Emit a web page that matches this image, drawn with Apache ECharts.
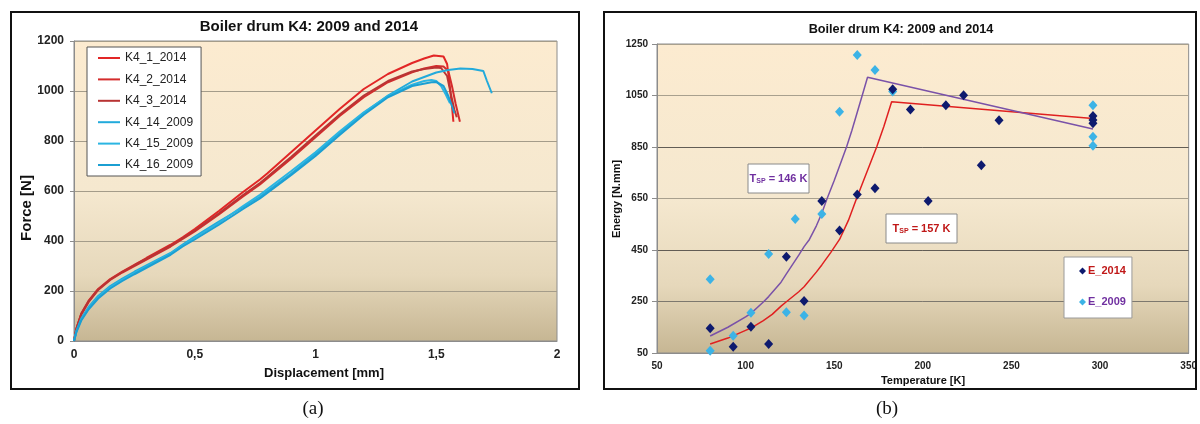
<!DOCTYPE html>
<html>
<head>
<meta charset="utf-8">
<script src="https://cdn.jsdelivr.net/npm/echarts@6/dist/echarts.min.js"></script>
<style>
  html, body { margin: 0; padding: 0; background: #ffffff; }
  #chart { width: 1200px; height: 424px; }
</style>
</head>
<body>
<div id="chart"></div>
<script>
// ---- (a) force–displacement records, [displacement mm, force N] ----
const k4_1_2014 = [[0,0],[0.01,50],[0.03,110],[0.06,160],[0.1,208],[0.15,248],[0.2,278],[0.25,305],[0.3,332],[0.4,385],[0.45,415],[0.5,448],[0.6,520],[0.7,596],[0.77,646],[0.8,670],[0.9,756],[1.0,842],[1.1,928],[1.2,1008],[1.3,1068],[1.4,1112],[1.45,1130],[1.49,1142],[1.53,1138],[1.545,1108],[1.555,1030],[1.565,940],[1.571,877]];
const k4_2_2014 = [[0,0],[0.01,48],[0.03,105],[0.06,155],[0.1,204],[0.15,244],[0.2,274],[0.25,300],[0.3,326],[0.4,378],[0.5,438],[0.6,506],[0.7,578],[0.77,626],[0.8,650],[0.9,730],[1.0,815],[1.1,900],[1.2,975],[1.3,1035],[1.4,1075],[1.45,1090],[1.5,1100],[1.53,1098],[1.55,1080],[1.565,1020],[1.58,950],[1.598,877]];
const k4_3_2014 = [[0,0],[0.01,50],[0.03,108],[0.06,158],[0.1,206],[0.15,246],[0.2,276],[0.25,303],[0.3,329],[0.4,381],[0.5,442],[0.6,511],[0.7,584],[0.77,632],[0.8,656],[0.9,737],[1.0,822],[1.1,906],[1.2,982],[1.3,1040],[1.4,1078],[1.45,1088],[1.5,1094],[1.52,1092],[1.545,1060],[1.56,990],[1.575,925],[1.585,895]];
const k4_14_2009 = [[0,0],[0.01,40],[0.03,90],[0.06,135],[0.1,180],[0.15,220],[0.2,250],[0.25,277],[0.3,302],[0.4,352],[0.45,386],[0.5,418],[0.6,478],[0.7,535],[0.77,577],[0.9,670],[1.0,748],[1.1,832],[1.2,912],[1.3,982],[1.4,1038],[1.5,1074],[1.55,1084],[1.6,1090],[1.65,1088],[1.695,1080],[1.71,1040],[1.73,991]];
const k4_15_2009 = [[0,0],[0.01,38],[0.03,86],[0.06,130],[0.1,175],[0.15,215],[0.2,245],[0.25,272],[0.3,298],[0.4,349],[0.45,382],[0.5,413],[0.6,472],[0.7,540],[0.77,585],[0.9,680],[1.0,755],[1.1,838],[1.2,915],[1.3,980],[1.4,1025],[1.45,1040],[1.48,1044],[1.5,1040],[1.52,1020],[1.54,985],[1.557,951]];
const k4_16_2009 = [[0,0],[0.01,36],[0.03,82],[0.06,126],[0.1,170],[0.15,210],[0.2,240],[0.25,267],[0.3,293],[0.4,345],[0.45,378],[0.5,406],[0.6,465],[0.7,528],[0.77,570],[0.9,664],[1.0,740],[1.1,824],[1.2,905],[1.3,975],[1.4,1020],[1.48,1035],[1.5,1036],[1.53,1020],[1.55,980],[1.565,940],[1.575,911]];

// ---- (b) absorbed energy vs test temperature ----
const e2014Temp   = [80, 93, 103, 113, 123, 133, 143, 153, 163, 173, 183, 193, 203, 213, 223, 233, 243, 296, 296, 296];
const e2014Energy = [146, 74, 152, 85, 424, 252, 640, 526, 666, 690, 1074, 996, 640, 1012, 1051, 779, 954, 970, 955, 942];
const e2009Temp   = [80, 80, 93, 103, 113, 123, 128, 133, 143, 153, 163, 173, 183, 296, 296, 296];
const e2009Energy = [336, 59, 117, 206, 434, 208, 570, 196, 590, 987, 1207, 1149, 1066, 1012, 890, 855];

// fitted transition curves
const fit2014Temp   = [80, 90, 100, 103, 110, 115, 120, 123, 130, 133, 140, 143, 148, 153, 158, 162.6, 168, 174, 178, 182.4, 296];
const fit2014Energy = [85, 108, 138, 147, 176, 200, 232, 249, 288, 307, 365, 392, 440, 491, 565, 650, 745, 851, 930, 1026, 961];
const fit2009Temp   = [80, 90, 100, 103, 110, 113, 120, 123, 130, 133, 136, 140, 143, 146, 150, 154, 157, 160, 163, 166, 168.8, 296];
const fit2009Energy = [116, 150, 190, 204, 248, 269, 325, 357, 430, 463, 491, 545, 593, 650, 720, 795, 851, 915, 985, 1055, 1121, 920];

const zip = (xs, ys) => xs.map((x, i) => [x, ys[i]]);

const FONT = '"Liberation Sans", Arial, sans-serif';
const makeBg = () => new echarts.graphic.LinearGradient(0, 0, 0, 1, [
  { offset: 0, color: '#fcebd0' },
  { offset: 0.5, color: '#f5e8cf' },
  { offset: 0.78, color: '#e6d8bb' },
  { offset: 1, color: '#c6b693' }
]);
const plainNum = v => String(v);

const chart = echarts.init(document.getElementById('chart'), null, { renderer: 'canvas' });

const lineSeries = (name, data, color) => ({
  name, type: 'line', data, xAxisIndex: 0, yAxisIndex: 0,
  showSymbol: false, symbol: 'none', smooth: false,
  lineStyle: { color, width: 2 }, itemStyle: { color },
  z: 3
});

const option = {
  animation: false,
  backgroundColor: '#ffffff',
  grid: [
    { left: 74, top: 41, width: 483, height: 300, show: true, backgroundColor: makeBg(), borderColor: '#8c8c8c', borderWidth: 1 },
    { left: 657, top: 44, width: 532, height: 309, show: true, backgroundColor: makeBg(), borderColor: '#8c8c8c', borderWidth: 1 }
  ],
  xAxis: [
    {
      gridIndex: 0, type: 'value', min: 0, max: 2, interval: 0.5,
      axisLine: { show: true, lineStyle: { color: '#8c8c8c' } },
      axisTick: { show: false },
      splitLine: { show: false },
      axisLabel: { margin: 8, color: '#222', fontFamily: FONT, fontWeight: 'bold', fontSize: 12,
        formatter: v => String(v).replace('.', ',') }
    },
    {
      gridIndex: 1, type: 'value', min: 50, max: 350, interval: 50,
      axisLine: { show: true, lineStyle: { color: '#8c8c8c' } },
      axisTick: { show: false },
      splitLine: { show: false },
      axisLabel: { margin: 8, color: '#222', fontFamily: FONT, fontWeight: 'bold', fontSize: 10, formatter: plainNum }
    }
  ],
  yAxis: [
    {
      gridIndex: 0, type: 'value', min: 0, max: 1200, interval: 200,
      axisLine: { show: true, lineStyle: { color: '#8c8c8c' } },
      axisTick: { show: true, inside: false, length: 4, lineStyle: { color: '#8c8c8c' } },
      splitLine: { show: true, lineStyle: { color: '#a49c8a', width: 1 } },
      axisLabel: { margin: 10, color: '#222', fontFamily: FONT, fontWeight: 'bold', fontSize: 12, formatter: plainNum }
    },
    {
      gridIndex: 1, type: 'value', min: 50, max: 1250, interval: 200,
      axisLine: { show: true, lineStyle: { color: '#8c8c8c' } },
      axisTick: { show: true, inside: false, length: 5, lineStyle: { color: '#8c8c8c' } },
      splitLine: { show: true, lineStyle: { color: ['#8c8c8c', '#7d786e', '#625d55', '#a8a08e', '#625d55', '#a8a08e', '#a8a08e'], width: 1 } },
      axisLabel: { margin: 9, color: '#222', fontFamily: FONT, fontWeight: 'bold', fontSize: 10, formatter: plainNum }
    }
  ],
  legend: [
    {
      left: 87, top: 47, orient: 'vertical',
      backgroundColor: '#ffffff', borderColor: '#555555', borderWidth: 1, borderRadius: 0,
      padding: [4, 8, 4, 11], itemGap: 7.4, itemWidth: 22, itemHeight: 2, icon: 'rect',
      textStyle: { fontFamily: FONT, fontSize: 12, color: '#222', lineHeight: 14, height: 14 },
      data: ['K4_1_2014', 'K4_2_2014', 'K4_3_2014', 'K4_14_2009', 'K4_15_2009', 'K4_16_2009']
    },
    {
      left: 1064, top: 257, orient: 'vertical',
      backgroundColor: '#ffffff', borderColor: '#9a9a9a', borderWidth: 1, borderRadius: 0,
      padding: [8, 6, 10, 15], itemGap: 19, itemWidth: 7, itemHeight: 7, icon: 'diamond',
      textStyle: { fontFamily: FONT, fontSize: 11, fontWeight: 'bold', lineHeight: 12, height: 12, padding: [0, 0, 0, -3] },
      data: [
        { name: 'E_2014', textStyle: { color: '#c01818' } },
        { name: 'E_2009', textStyle: { color: '#7030a0' } }
      ]
    }
  ],
  series: [
    lineSeries('K4_1_2014', k4_1_2014, '#e22626'),
    lineSeries('K4_2_2014', k4_2_2014, '#d42c2c'),
    lineSeries('K4_3_2014', k4_3_2014, '#b83434'),
    lineSeries('K4_14_2009', k4_14_2009, '#22aadb'),
    lineSeries('K4_15_2009', k4_15_2009, '#2bb5e2'),
    lineSeries('K4_16_2009', k4_16_2009, '#1b9fd2'),
    {
      name: 'fit_2014', type: 'line', xAxisIndex: 1, yAxisIndex: 1,
      data: zip(fit2014Temp, fit2014Energy), showSymbol: false, symbol: 'none',
      lineStyle: { color: '#e02020', width: 1.5 }, z: 2
    },
    {
      name: 'fit_2009', type: 'line', xAxisIndex: 1, yAxisIndex: 1,
      data: zip(fit2009Temp, fit2009Energy), showSymbol: false, symbol: 'none',
      lineStyle: { color: '#7a52a8', width: 1.5 }, z: 2
    },
    {
      name: 'E_2009', type: 'scatter', xAxisIndex: 1, yAxisIndex: 1,
      data: zip(e2009Temp, e2009Energy), symbol: 'diamond', symbolSize: [9, 10],
      itemStyle: { color: '#3cb3e6', opacity: 1 }, z: 4
    },
    {
      name: 'E_2014', type: 'scatter', xAxisIndex: 1, yAxisIndex: 1,
      data: zip(e2014Temp, e2014Energy), symbol: 'diamond', symbolSize: [9, 10],
      itemStyle: { color: '#0e1a6e', opacity: 1 }, z: 5
    }
  ],
  graphic: [
    // panel frames
    { type: 'rect', shape: { x: 11, y: 12, width: 568, height: 377 }, style: { fill: 'none', stroke: '#111', lineWidth: 2 }, z: 10, silent: true },
    { type: 'rect', shape: { x: 604, y: 12, width: 592, height: 377 }, style: { fill: 'none', stroke: '#111', lineWidth: 2 }, z: 10, silent: true },
    // titles
    { type: 'text', x: 309, y: 27, style: { text: 'Boiler drum K4: 2009 and 2014', font: 'bold 15px ' + FONT, fill: '#111', textAlign: 'center', textVerticalAlign: 'middle' } },
    { type: 'text', x: 901, y: 29, style: { text: 'Boiler drum K4: 2009 and 2014', font: 'bold 12.7px ' + FONT, fill: '#111', textAlign: 'center', textVerticalAlign: 'middle' } },
    // axis names
    { type: 'text', x: 27, y: 208, rotation: Math.PI / 2, style: { text: 'Force [N]', font: 'bold 15px ' + FONT, fill: '#111', textAlign: 'center', textVerticalAlign: 'middle' } },
    { type: 'text', x: 324, y: 373, style: { text: 'Displacement [mm]', font: 'bold 13px ' + FONT, fill: '#111', textAlign: 'center', textVerticalAlign: 'middle' } },
    { type: 'text', x: 617, y: 199, rotation: Math.PI / 2, style: { text: 'Energy [N.mm]', font: 'bold 11px ' + FONT, fill: '#111', textAlign: 'center', textVerticalAlign: 'middle' } },
    { type: 'text', x: 923, y: 381, style: { text: 'Temperature [K]', font: 'bold 11px ' + FONT, fill: '#111', textAlign: 'center', textVerticalAlign: 'middle' } },
    // transition temperature labels
    { type: 'rect', shape: { x: 748, y: 164, width: 61, height: 29 }, style: { fill: '#ffffff', stroke: '#8a8a8a', lineWidth: 1 }, z: 20 },
    { type: 'text', x: 778.5, y: 179, z: 21, style: {
        text: '{t|T}{s|SP}{t| = 146 K}', textAlign: 'center', textVerticalAlign: 'middle',
        rich: { t: { font: 'bold 11px ' + FONT, fill: '#7030a0', color: '#7030a0' }, s: { font: 'bold 7px ' + FONT, fill: '#7030a0', color: '#7030a0', padding: [5, 0, 0, 0] } } } },
    { type: 'rect', shape: { x: 886, y: 214, width: 71, height: 29 }, style: { fill: '#ffffff', stroke: '#8a8a8a', lineWidth: 1 }, z: 20 },
    { type: 'text', x: 921.5, y: 229, z: 21, style: {
        text: '{t|T}{s|SP}{t| = 157 K}', textAlign: 'center', textVerticalAlign: 'middle',
        rich: { t: { font: 'bold 11px ' + FONT, fill: '#c01818', color: '#c01818' }, s: { font: 'bold 7px ' + FONT, fill: '#c01818', color: '#c01818', padding: [5, 0, 0, 0] } } } },
    // panel captions
    { type: 'text', x: 313, y: 409, style: { text: '(a)', font: '19px "Liberation Serif", "Times New Roman", serif', fill: '#111', textAlign: 'center', textVerticalAlign: 'middle' } },
    { type: 'text', x: 887, y: 409, style: { text: '(b)', font: '19px "Liberation Serif", "Times New Roman", serif', fill: '#111', textAlign: 'center', textVerticalAlign: 'middle' } }
  ]
};

chart.setOption(option);
</script>
</body>
</html>
